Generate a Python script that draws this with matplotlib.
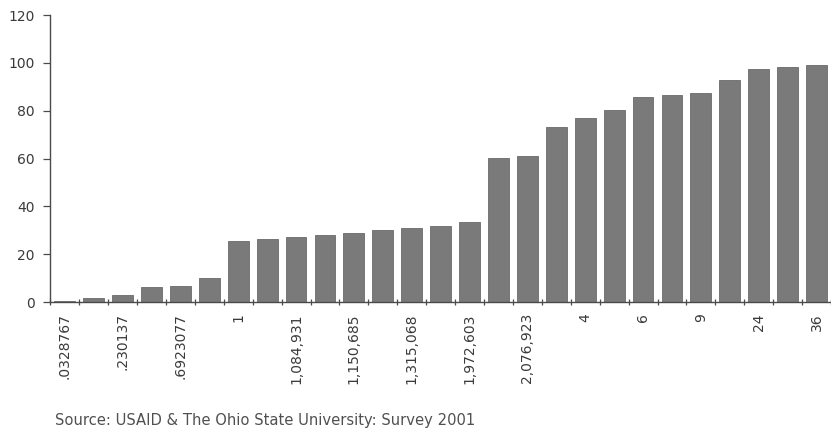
import matplotlib
matplotlib.use("Agg")
import matplotlib.pyplot as plt
import numpy as np

# Cumulative share (%) for each ordered category
values = [0.5, 1.5, 2.8, 6.1, 6.8, 9.9, 25.6, 26.5, 27.2, 28.0, 28.7, 30.3, 31.0,
          31.8, 33.3, 60.4, 61.2, 73.1, 77.1, 80.2, 85.6, 86.5, 87.2, 92.8, 97.4,
          98.2, 98.9]

# Labels shown under every other bar
tick_labels = [".0328767", ".230137", ".6923077", "1", "1,084,931", "1,150,685",
               "1,315,068", "1,972,603", "2,076,923", "4", "6", "9", "24", "36"]

y_ticks = [0, 20, 40, 60, 80, 100, 120]
source_note = "Source: USAID & The Ohio State University: Survey 2001"

bar_color = "#7a7a7a"
axis_color = "#4a4a4a"
text_color = "#3a3a3a"

plt.rcParams["font.family"] = ["DejaVu Sans"]

fig = plt.figure(figsize=(8.31, 4.29), dpi=100)
ax = fig.add_axes([0.0605, 0.296, 0.9395, 0.669])

x = np.arange(len(values))
ax.bar(x, values, width=0.72, color=bar_color, edgecolor="#6a6a6a", linewidth=0.6)

ax.set_xlim(-0.5, len(values) - 0.5)
ax.set_ylim(0, 120)

ax.set_yticks(y_ticks)
ax.set_yticklabels([str(v) for v in y_ticks])

label_pos = x[::2]
ax.set_xticks(label_pos)
ax.set_xticklabels(tick_labels, rotation=90, va="top", ha="center")
ax.set_xticks(np.arange(-0.5, len(values), 1.0), minor=True)

ax.tick_params(axis="x", which="major", length=0, pad=8, labelsize=10,
               labelcolor=text_color)
ax.tick_params(axis="x", which="minor", length=4, width=0.9, color=axis_color,
               direction="inout")
ax.tick_params(axis="y", which="major", length=5, width=0.9, color=axis_color,
               pad=6, labelsize=10, labelcolor=text_color)

for side in ("top", "right"):
    ax.spines[side].set_visible(False)
for side in ("left", "bottom"):
    ax.spines[side].set_color(axis_color)
    ax.spines[side].set_linewidth(1.0)

fig.text(55 / 831, 1 - 420 / 429, source_note, ha="left", va="center",
         fontsize=10.6, color="#505050")

fig.savefig("out.png", dpi=100)
